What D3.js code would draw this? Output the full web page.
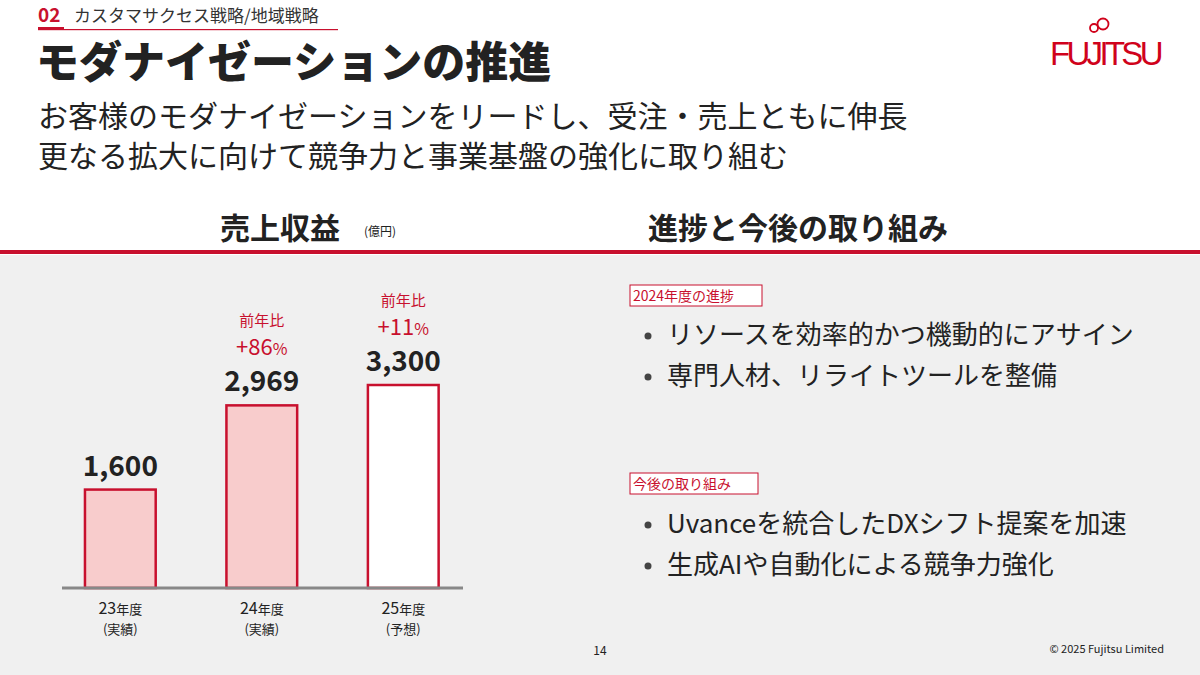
<!DOCTYPE html>
<html><head><meta charset="utf-8">
<script src="https://cdn.jsdelivr.net/npm/d3@7"></script>
<style>body{margin:0;background:#fff}svg{display:block;font-family:"Noto Sans CJK JP","Noto Sans",sans-serif}</style>
</head><body><svg id="c" width="1200" height="675"></svg>
<script>
const categories = ["23年度", "24年度", "25年度"];
const subLabels = ["(実績)", "(実績)", "(予想)"];
const values = [1600, 2969, 3300];
const growth = [null, "+86", "+11"];
const progressItems = ["リソースを効率的かつ機動的にアサイン", "専門人材、リライトツールを整備"];
const futureItems = ["Uvanceを統合したDXシフト提案を加速", "生成AIや自動化による競争力強化"];

const RED = "#c8102e", DARK = "#222";
const svg = d3.select("#c");
svg.append("rect").attr("x",0).attr("y",255).attr("width",1200).attr("height",420).attr("fill","#f0f0f0");
svg.append("rect").attr("x",0).attr("y",250).attr("width",1200).attr("height",4).attr("fill",RED);

svg.append("text").attr("x",38).attr("y",22).attr("font-size",19).attr("font-weight",700).attr("fill",RED).text("02");
svg.append("rect").attr("x",38).attr("y",27).attr("width",26).attr("height",3).attr("fill",RED);
svg.append("rect").attr("x",38).attr("y",29).attr("width",300).attr("height",1.2).attr("fill",RED);
svg.append("text").attr("x",74).attr("y",22).attr("font-size",17).attr("fill","#333").text("カスタマサクセス戦略/地域戦略");
svg.append("text").attr("x",36).attr("y",78).attr("font-size",43).attr("font-weight",900).attr("fill",DARK).text("モダナイゼーションの推進");
svg.append("text").attr("x",38).attr("y",127).attr("font-size",30).attr("fill",DARK).text("お客様のモダナイゼーションをリードし、受注・売上ともに伸長");
svg.append("text").attr("x",38).attr("y",167).attr("font-size",30).attr("fill",DARK).text("更なる拡大に向けて競争力と事業基盤の強化に取り組む");
const lg = svg.append("g");
lg.append("text").attr("x",1106).attr("y",65).attr("text-anchor","middle").attr("font-family","Liberation Sans, sans-serif").attr("font-size",33).attr("fill","#d0021b").attr("letter-spacing",-1.5).attr("textLength",112).text("FUJITSU");
lg.append("circle").attr("cx",1094).attr("cy",28).attr("r",4).attr("fill","none").attr("stroke","#d0021b").attr("stroke-width",1.8);
lg.append("circle").attr("cx",1103).attr("cy",24).attr("r",5.5).attr("fill","none").attr("stroke","#d0021b").attr("stroke-width",1.8);

svg.append("text").attr("x",220).attr("y",239).attr("font-size",30).attr("font-weight",700).attr("fill",DARK).text("売上収益");
svg.append("text").attr("x",364).attr("y",236).attr("font-size",12).attr("fill",DARK).text("(億円)");
svg.append("text").attr("x",648).attr("y",239).attr("font-size",30).attr("font-weight",700).attr("fill",DARK).text("進捗と今後の取り組み");

const x = d3.scaleBand().domain(categories).range([49.6,474]).paddingInner(0.5).paddingOuter(0.25);
const y = d3.scaleLinear().domain([0,3300]).range([588,385]);
const fills = ["#f8cccc","#f8cccc","#ffffff"];
svg.selectAll("rect.bar").data(values).join("rect").attr("class","bar")
  .attr("x",(d,i)=>x(categories[i])).attr("width",x.bandwidth())
  .attr("y",d=>y(d)).attr("height",d=>y(0)-y(d))
  .attr("fill",(d,i)=>fills[i]).attr("stroke",RED).attr("stroke-width",2.5);
svg.append("line").attr("x1",62).attr("x2",463).attr("y1",588).attr("y2",588).attr("stroke","#888").attr("stroke-width",3);
const cx = i => x(categories[i]) + x.bandwidth()/2;
values.forEach((v,i)=>{
  svg.append("text").attr("x",cx(i)).attr("y",y(v)-14).attr("text-anchor","middle").attr("font-size",28).attr("font-weight",700).attr("fill",DARK).text(d3.format(",")(v));
  if(growth[i]){
    svg.append("text").attr("x",cx(i)).attr("y",y(v)-79).attr("text-anchor","middle").attr("font-size",15).attr("fill",RED).text("前年比");
    const t = svg.append("text").attr("x",cx(i)).attr("y",y(v)-50).attr("text-anchor","middle").attr("fill",RED);
    t.append("tspan").attr("font-size",22).text(growth[i]);
    t.append("tspan").attr("font-size",16).text("%");
  }
  const t2 = svg.append("text").attr("x",cx(i)).attr("y",614).attr("text-anchor","middle").attr("fill",DARK);
  t2.append("tspan").attr("font-size",16).text(categories[i].slice(0,2));
  t2.append("tspan").attr("font-size",13).text(categories[i].slice(2));
  svg.append("text").attr("x",cx(i)).attr("y",634).attr("text-anchor","middle").attr("font-size",13).attr("fill",DARK).text(subLabels[i]);
});

function tag(xp, yp, w, label){
  svg.append("rect").attr("x",xp).attr("y",yp).attr("width",w).attr("height",21).attr("fill","#fff").attr("stroke",RED).attr("stroke-width",1);
  svg.append("text").attr("x",xp+3).attr("y",yp+16).attr("font-size",14).attr("fill",RED).text(label);
}
function bullets(items, y0){
  items.forEach((s,i)=>{
    svg.append("circle").attr("cx",648).attr("cy",y0+i*41-8).attr("r",3.5).attr("fill","#444");
    svg.append("text").attr("x",667).attr("y",y0+i*41).attr("font-size",26).attr("fill",DARK).text(s);
  });
}
tag(630,285,132,"2024年度の進捗");
bullets(progressItems,344);
tag(630,473,128,"今後の取り組み");
bullets(futureItems,533);

svg.append("text").attr("x",600).attr("y",655).attr("text-anchor","middle").attr("font-size",12).attr("fill",DARK).text("14");
svg.append("text").attr("x",1164).attr("y",653).attr("text-anchor","end").attr("font-size",11).attr("fill",DARK).text("© 2025 Fujitsu Limited");
</script></body></html>
